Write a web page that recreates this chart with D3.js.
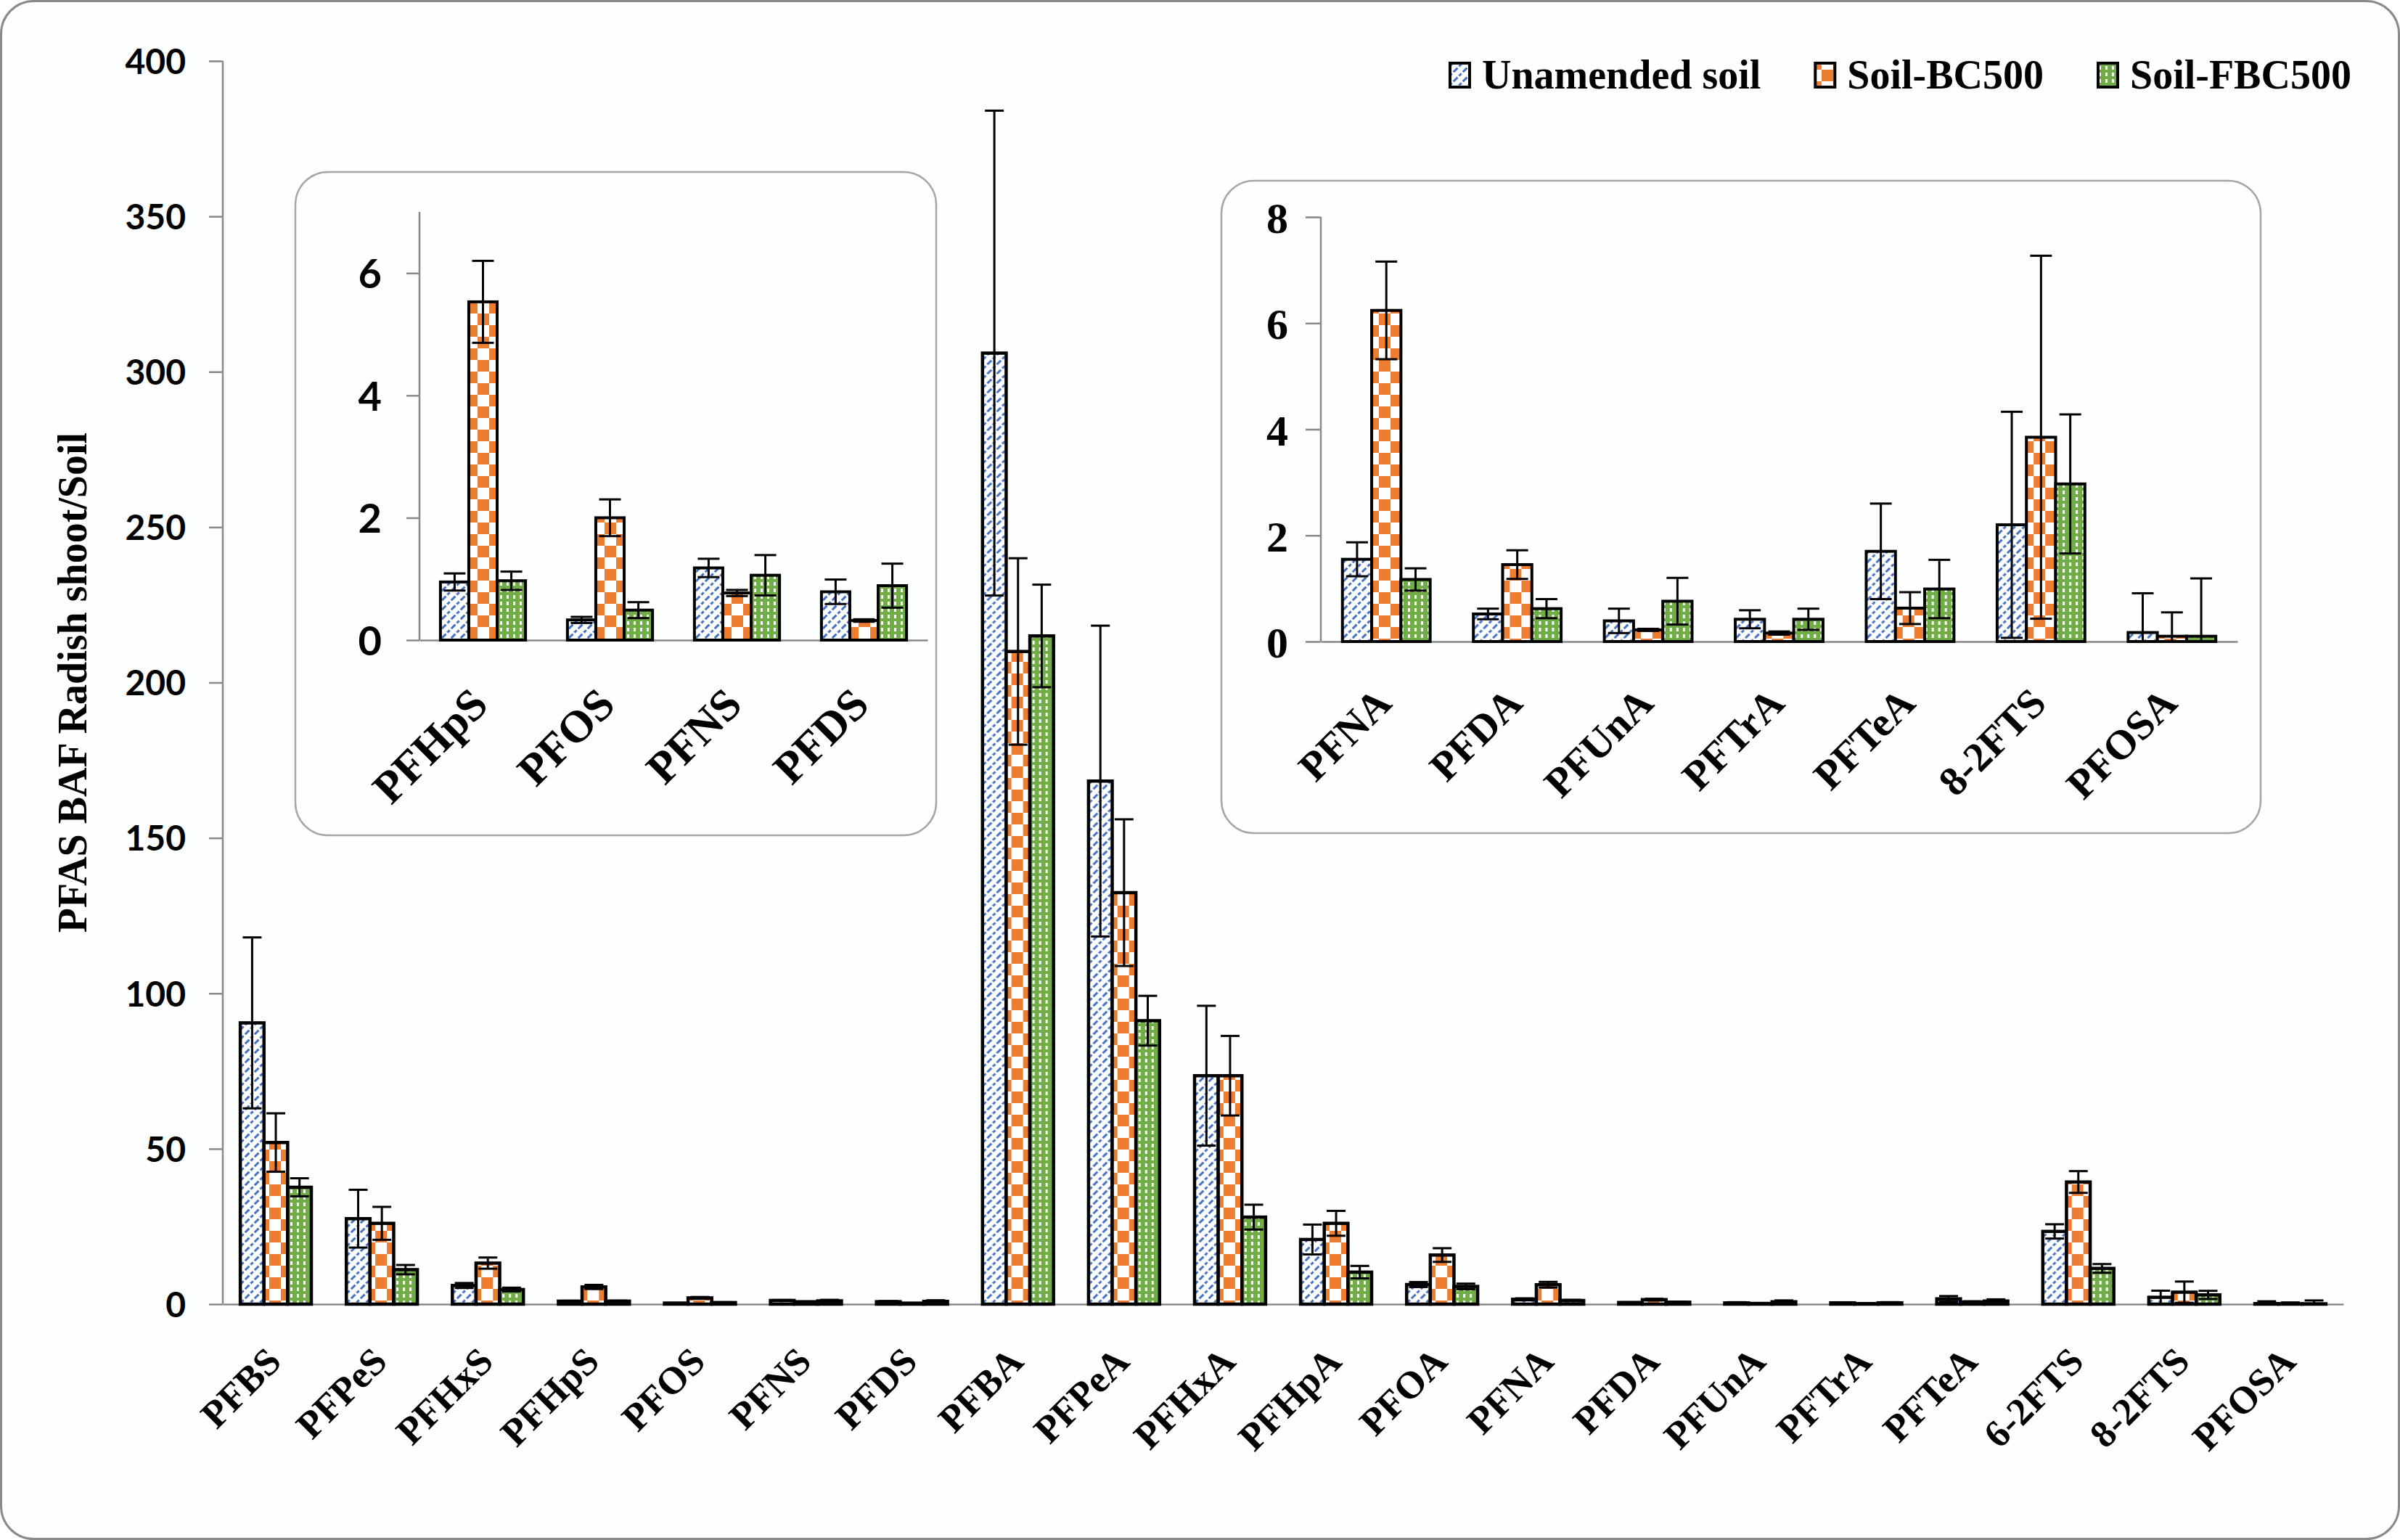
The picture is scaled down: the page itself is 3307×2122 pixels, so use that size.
<!DOCTYPE html>
<html>
<head>
<meta charset="utf-8">
<script src="https://cdn.jsdelivr.net/npm/d3@7/dist/d3.min.js"></script>
<style>
  body { margin: 0; background: #fff; }
</style>
</head>
<body>
<script>
// ---- data ----
var categories = ["PFBS", "PFPeS", "PFHxS", "PFHpS", "PFOS", "PFNS", "PFDS", "PFBA", "PFPeA", "PFHxA",
  "PFHpA", "PFOA", "PFNA", "PFDA", "PFUnA", "PFTrA", "PFTeA", "6-2FTS", "8-2FTS", "PFOSA"];
var seriesNames = ["Unamended soil", "Soil-BC500", "Soil-FBC500"];

var unamended    = [90.5, 27.5, 6.0, 0.95, 0.33, 1.18, 0.79, 306, 168.3, 73.5, 20.8, 6.3, 1.55, 0.52, 0.39, 0.42, 1.70, 23.4, 2.20, 0.17];
var unamendedErr = [27.5, 9.3, 0.8, 0.14, 0.05, 0.15, 0.20, 78, 50, 22.5, 4.8, 0.8, 0.32, 0.10, 0.23, 0.17, 0.90, 2.3, 2.13, 0.74];
var bc500        = [52, 26, 13.2, 5.53, 2.0, 0.77, 0.32, 210, 132.4, 73.5, 26, 15.8, 6.24, 1.45, 0.22, 0.16, 0.63, 39.3, 3.85, 0.10];
var bc500Err     = [9.4, 5.3, 1.8, 0.67, 0.30, 0.05, 0.02, 30, 23.6, 12.8, 4.0, 2.2, 0.92, 0.27, 0.02, 0.03, 0.30, 3.5, 3.42, 0.45];
var fbc500       = [37.6, 11.1, 4.7, 0.97, 0.49, 1.06, 0.89, 215, 91.2, 28, 10.3, 5.7, 1.17, 0.62, 0.76, 0.42, 0.99, 11.5, 2.97, 0.10];
var fbc500Err    = [2.9, 1.5, 0.6, 0.15, 0.13, 0.33, 0.36, 16.5, 8, 4.0, 2.0, 0.9, 0.21, 0.18, 0.44, 0.20, 0.55, 1.4, 1.31, 1.09];

var mainTicks = [0, 50, 100, 150, 200, 250, 300, 350, 400];
var inset1Cats = ["PFHpS", "PFOS", "PFNS", "PFDS"];
var inset1Ticks = [0, 2, 4, 6];
var inset2Cats = ["PFNA", "PFDA", "PFUnA", "PFTrA", "PFTeA", "8-2FTS", "PFOSA"];
var inset2Ticks = [0, 2, 4, 6, 8];

var values = [unamended, bc500, fbc500];
var errors = [unamendedErr, bc500Err, fbc500Err];

var W = 3307, H = 2122;
var serif = "'Liberation Serif', 'Times New Roman', serif";
var sans = "Lato, 'Open Sans', sans-serif";
var axisGrey = "#898989";

var svg = d3.select("body").append("svg")
  .attr("width", W)
  .attr("height", H);

// fill patterns for the three series
var defs = svg.append("defs");

var p0 = defs.append("pattern").attr("id", "pat0")
  .attr("patternUnits", "userSpaceOnUse").attr("width", 13).attr("height", 13);
p0.append("rect").attr("width", 13).attr("height", 13).attr("fill", "#fff");
p0.append("path").attr("d", "M-3,16 L16,-3 M-9.5,9.5 L9.5,-9.5 M3.5,22.5 L22.5,3.5")
  .attr("stroke", "#4472C4").attr("stroke-width", 3).attr("stroke-dasharray", "8 3");

var p1 = defs.append("pattern").attr("id", "pat1")
  .attr("patternUnits", "userSpaceOnUse").attr("width", 32).attr("height", 32);
p1.append("rect").attr("width", 32).attr("height", 32).attr("fill", "#fff");
p1.append("rect").attr("width", 16).attr("height", 16).attr("fill", "#ED7D31");
p1.append("rect").attr("x", 16).attr("y", 16).attr("width", 16).attr("height", 16).attr("fill", "#ED7D31");

var p2 = defs.append("pattern").attr("id", "pat2")
  .attr("patternUnits", "userSpaceOnUse").attr("width", 9).attr("height", 9);
p2.append("rect").attr("width", 9).attr("height", 9).attr("fill", "#70AD47");
p2.append("rect").attr("x", 3).attr("y", 1).attr("width", 3).attr("height", 5).attr("fill", "#fff");

// outer frame
svg.append("rect")
  .attr("x", 1.5).attr("y", 1.5)
  .attr("width", W - 3).attr("height", H - 3)
  .attr("rx", 45).attr("ry", 45)
  .attr("fill", "#fdfefe")
  .attr("stroke", "#8a8a8a")
  .attr("stroke-width", 3);

// draws a clustered bar chart with error bars for the given categories
function drawBars(g, cats, x, y, opt) {
  var step = x.step();
  var gw = step * 0.67;
  var inner = d3.scaleBand().domain([0, 1, 2]).range([(step - gw) / 2, (step + gw) / 2]);

  var rows = cats.map(function(c) {
    var i = categories.indexOf(c);
    return { cat: c, vals: values.map(function(s) { return s[i]; }), errs: errors.map(function(s) { return s[i]; }) };
  });

  var groups = g.selectAll(".grp").data(rows).enter().append("g")
    .attr("transform", function(d) { return "translate(" + x(d.cat) + ",0)"; });

  groups.selectAll("rect").data(function(d) { return d.vals; }).enter().append("rect")
    .attr("x", function(d, j) { return inner(j); })
    .attr("y", function(d) { return y(d); })
    .attr("width", inner.bandwidth())
    .attr("height", function(d) { return y(0) - y(d); })
    .attr("fill", function(d, j) { return "url(#pat" + j + ")"; })
    .attr("stroke", "#000")
    .attr("stroke-width", opt.barStroke);

  var eb = groups.selectAll(".eb").data(function(d) {
    return d.vals.map(function(v, j) { return { v: v, e: d.errs[j], j: j }; });
  }).enter().append("g")
    .attr("stroke", "#000")
    .attr("stroke-width", opt.errStroke);

  eb.each(function(d) {
    var cx = inner(d.j) + inner.bandwidth() / 2;
    var hi = y(d.v + d.e), lo = y(Math.max(0, d.v - d.e));
    var el = d3.select(this);
    el.append("line").attr("x1", cx).attr("x2", cx).attr("y1", hi).attr("y2", lo);
    el.append("line").attr("x1", cx - opt.cap / 2).attr("x2", cx + opt.cap / 2).attr("y1", hi).attr("y2", hi);
    if (d.v - d.e > 0) {
      el.append("line").attr("x1", cx - opt.cap / 2).attr("x2", cx + opt.cap / 2).attr("y1", lo).attr("y2", lo);
    }
  });
}

function drawAxes(g, x, y, ticks, opt) {
  var yAxis = d3.axisLeft(y).tickValues(ticks).tickSize(opt.tickLen).tickSizeOuter(0).tickPadding(opt.tickPad)
    .tickFormat(d3.format("d"));
  var ya = g.append("g").attr("transform", "translate(" + x.range()[0] + ",0)").call(yAxis);
  ya.select(".domain").attr("d", "M0," + y(y.domain()[1]) + "V" + y(0))
    .attr("stroke", axisGrey).attr("stroke-width", 2.5);
  ya.selectAll(".tick line").attr("stroke", axisGrey).attr("stroke-width", 2.5);
  ya.selectAll(".tick text")
    .attr("font-family", opt.tickFont).attr("font-weight", "bold")
    .attr("font-size", opt.tickSize).attr("fill", "#000").attr("dy", "0.36em");

  var xAxis = d3.axisBottom(x).tickSize(0).tickSizeOuter(0);
  var xa = g.append("g").attr("transform", "translate(0," + y(0) + ")").call(xAxis);
  xa.select(".domain").attr("stroke", axisGrey).attr("stroke-width", 2.5);
  xa.selectAll(".tick text")
    .attr("font-family", serif).attr("font-weight", "bold")
    .attr("font-size", opt.labelSize).attr("fill", "#000")
    .attr("text-anchor", "end")
    .attr("x", 10).attr("y", opt.labelDrop).attr("dy", 0)
    .attr("transform", "rotate(-45, 10, " + opt.labelDrop + ")");
}

// ---- main chart ----
var main = svg.append("g");
var x = d3.scaleBand().domain(categories).range([307, 3229]);
var y = d3.scaleLinear().domain([0, 400]).range([1797, 84]);

drawAxes(main, x, y, mainTicks, { tickLen: 19, tickPad: 32, tickFont: sans, tickSize: 48, labelSize: 53, labelDrop: 82 });
drawBars(main, categories, x, y, { barStroke: 4.5, errStroke: 3, cap: 26 });

main.append("text")
  .attr("transform", "translate(100," + (y(200)) + ") rotate(-90)")
  .attr("text-anchor", "middle")
  .attr("dominant-baseline", "central")
  .attr("font-family", serif).attr("font-weight", "bold").attr("font-size", 56)
  .text("PFAS BAF Radish shoot/Soil");

// legend
var legend = svg.append("g").attr("transform", "translate(1998,0)");
var lx = 0;
seriesNames.forEach(function(name, j) {
  legend.append("rect")
    .attr("x", lx).attr("y", 87).attr("width", 27).attr("height", 33)
    .attr("fill", "url(#pat" + j + ")")
    .attr("stroke", "#000").attr("stroke-width", 4);
  var t = legend.append("text")
    .attr("x", lx + 44).attr("y", 122)
    .attr("font-family", serif).attr("font-weight", "bold").attr("font-size", 56)
    .text(name);
  lx += 44 + t.node().getComputedTextLength() + 75;
});

// ---- inset 1 ----
svg.append("rect")
  .attr("x", 407).attr("y", 237).attr("width", 883).attr("height", 914)
  .attr("rx", 45).attr("ry", 45)
  .attr("fill", "#fdfefe").attr("stroke", "#a6a6a6").attr("stroke-width", 2.5);
var in1 = svg.append("g");
var x1 = d3.scaleBand().domain(inset1Cats).range([578, 1278]);
var y1 = d3.scaleLinear().domain([0, 7]).range([882, 292]);
drawAxes(in1, x1, y1, inset1Ticks, { tickLen: 18, tickPad: 34, tickFont: sans, tickSize: 56, labelSize: 62, labelDrop: 92 });
drawBars(in1, inset1Cats, x1, y1, { barStroke: 4, errStroke: 3, cap: 30 });

// ---- inset 2 ----
svg.append("rect")
  .attr("x", 1683).attr("y", 249).attr("width", 1432).attr("height", 899)
  .attr("rx", 45).attr("ry", 45)
  .attr("fill", "#fdfefe").attr("stroke", "#a6a6a6").attr("stroke-width", 2.5);
var in2 = svg.append("g");
var x2 = d3.scaleBand().domain(inset2Cats).range([1820, 3083]);
var y2 = d3.scaleLinear().domain([0, 8]).range([884, 299]);
drawAxes(in2, x2, y2, inset2Ticks, { tickLen: 21, tickPad: 24, tickFont: serif, tickSize: 60, labelSize: 57, labelDrop: 88 });
drawBars(in2, inset2Cats, x2, y2, { barStroke: 4, errStroke: 3, cap: 30 });
</script>
</body>
</html>
